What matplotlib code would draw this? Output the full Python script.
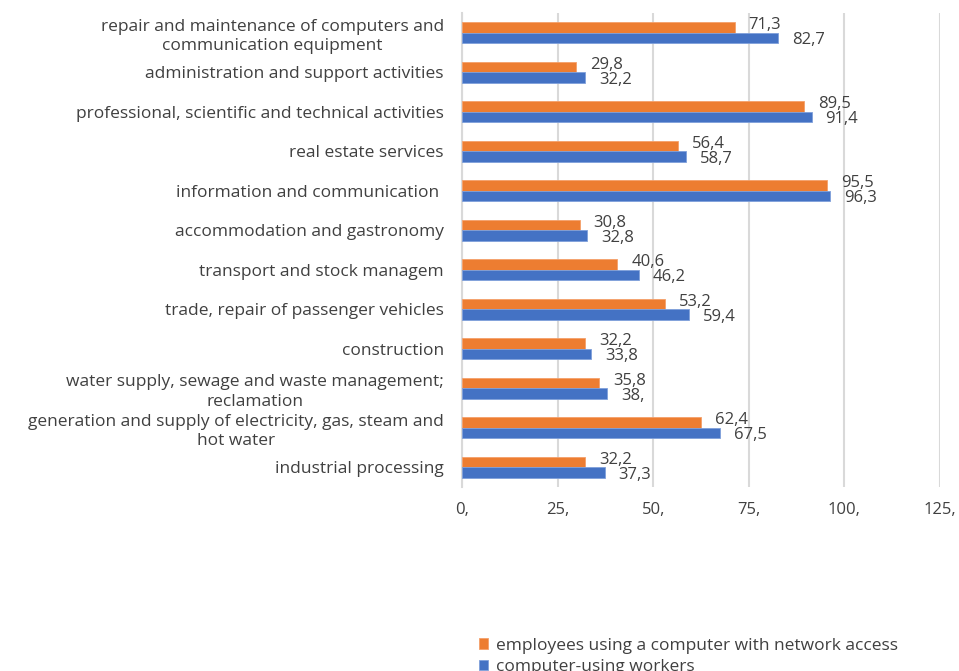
import matplotlib
matplotlib.use("Agg")
import matplotlib.pyplot as plt
import numpy as np

categories = [
    "industrial processing",
    "generation and supply of electricity, gas, steam and\nhot water",
    "water supply, sewage and waste management;\nreclamation",
    "construction",
    "trade, repair of passenger vehicles",
    "transport and stock managem",
    "accommodation and gastronomy",
    "information and communication ",
    "real estate services",
    "professional, scientific and technical activities",
    "administration and support activities",
    "repair and maintenance of computers and\ncommunication equipment",
]
network_access = [32.2, 62.4, 35.8, 32.2, 53.2, 40.6, 30.8, 95.5, 56.4, 89.5, 29.8, 71.3]
computer_users = [37.3, 67.5, 38.0, 33.8, 59.4, 46.2, 32.8, 96.3, 58.7, 91.4, 32.2, 82.7]
series_names = ["employees using a computer with network access", "computer-using workers"]
x_ticks = [0, 25, 50, 75, 100, 125]

ORANGE = "#ED7D31"
BLUE = "#4472C4"
TEXT = "#404040"
GRID = "#D9D9D9"

plt.rcParams["font.family"] = ["Open Sans", "DejaVu Sans"]


def fmt(v):
    s = f"{v:g}".replace(".", ",")
    if "," not in s:
        s += ","
    return s


fig = plt.figure(figsize=(9.59, 6.71), dpi=100)
ax = fig.add_axes([462 / 959, 1 - 487 / 671, (940 - 462) / 959, (487 - 13) / 671])

y = np.arange(len(categories))
h = 0.27
b1 = ax.barh(y + h / 2, network_access, height=h, color=ORANGE, edgecolor="#F4A06A",
             linewidth=0.6, label=series_names[0], zorder=3)
b2 = ax.barh(y - h / 2, computer_users, height=h, color=BLUE, edgecolor="#7FA0DA",
             linewidth=0.6, label=series_names[1], zorder=3)

for bars, vals, dy in ((b1, network_access, 1.5), (b2, computer_users, -1.5)):
    for rect, v in zip(bars, vals):
        cy = rect.get_y() + rect.get_height() / 2
        ax.annotate(fmt(v), xy=(v, cy), xytext=(10, dy), textcoords="offset points",
                    ha="left", va="center", fontsize=12, color=TEXT, zorder=4)

ax.set_xlim(0, 125)
ax.set_ylim(-0.5, len(categories) - 0.5)
ax.set_xticks(x_ticks)
ax.set_xticklabels([f"{t}," for t in x_ticks], fontsize=12)
ax.set_yticks(y)
ax.set_yticklabels(categories, multialignment="center", linespacing=1.3, fontsize=12.5)

ax.grid(axis="x", color=GRID, linewidth=1.5, zorder=0)
for side in ("top", "right", "bottom"):
    ax.spines[side].set_visible(False)
ax.spines["left"].set_color(GRID)
ax.spines["left"].set_linewidth(1.5)
ax.tick_params(axis="both", length=0, labelcolor=TEXT)
ax.tick_params(axis="y", pad=13)
ax.tick_params(axis="x", pad=11)

fig.legend(handles=[b1, b2], loc="upper left", bbox_to_anchor=(470 / 959, 1 - 629 / 671),
           frameon=False, fontsize=12.5, labelcolor=TEXT, handlelength=0.55,
           handleheight=0.55, handletextpad=0.45, labelspacing=0.3, borderpad=0)

fig.savefig("out.png", dpi=100)
